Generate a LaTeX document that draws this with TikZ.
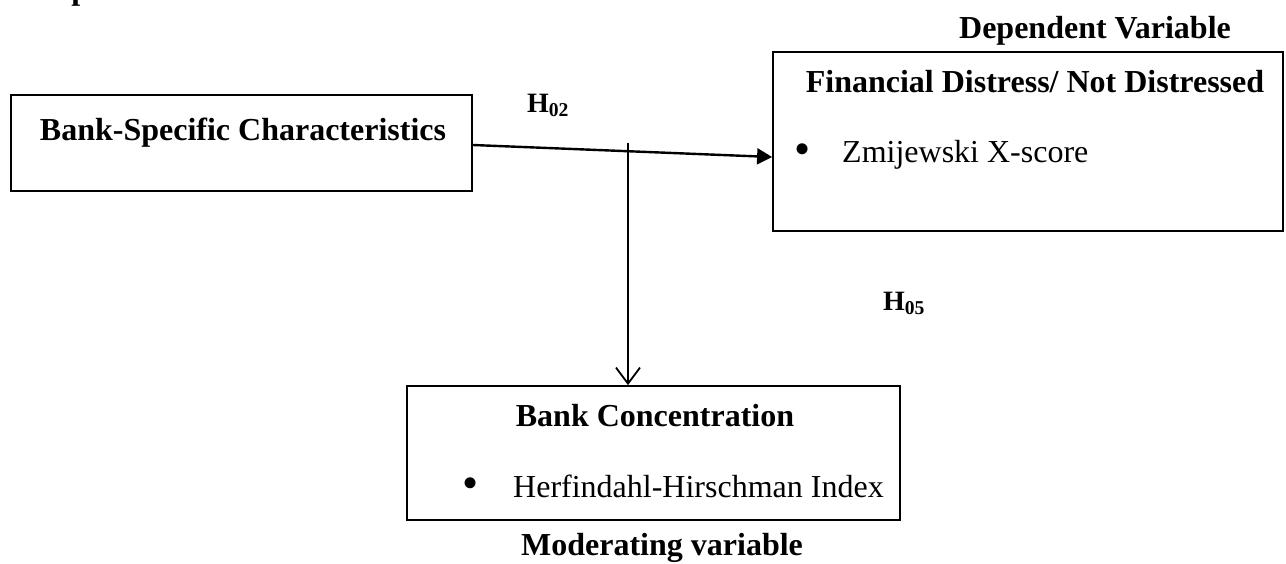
\documentclass[tikz,border=0pt]{standalone}
\usepackage{fontspec}
\setmainfont{Liberation Serif}
\usetikzlibrary{arrows.meta}
\tikzset{
  box/.style={draw, line width=1.8pt, inner sep=0pt},
  lbl/.style={font=\fontsize{32}{36}\selectfont\bfseries, inner sep=0pt, anchor=base},
  itm/.style={font=\fontsize{32}{36}\selectfont, inner sep=0pt, anchor=base west},
  bul/.style={font=\fontsize{46}{46}\selectfont, inner sep=0pt, anchor=center},
  hyp/.style={font=\fontsize{28}{32}\selectfont\bfseries, inner sep=0pt, anchor=base},
}
\begin{document}
\begin{tikzpicture}[x=1pt,y=-1pt]
\useasboundingbox (0,0) rectangle (1286,563);
\begin{scope}
\clip (0,0) rectangle (1286,563);
\node[lbl, anchor=base west] (top) at (9,-1) {Independent variables};
\end{scope}
% boxes
\node[box, minimum width=461pt, minimum height=96pt] (bsc) at (241.5,143) {};
\node[box, minimum width=510pt, minimum height=179pt] (fd) at (1028,141.5) {};
\node[box, minimum width=493pt, minimum height=134pt] (bc) at (653.5,453) {};
% texts
\node[lbl] (bsct) at (243,140) {Bank-Specific Characteristics};
\node[lbl] (dvt) at (1095,38) {Dependent Variable};
\node[lbl] (fdt) at (1035,92) {Financial Distress/ Not Distressed};
\node[bul] (fdb) at (803,154) {\textbullet};
\node[itm] (fdi) at (842,162) {Zmijewski X-score};
\node[lbl] (bct) at (655,426) {Bank Concentration};
\node[bul] (bcb) at (471,488) {\textbullet};
\node[itm] (bci) at (513,497) {Herfindahl-Hirschman Index};
\node[lbl] (mvt) at (662,555) {Moderating variable};
\node[hyp] (h02) at (548,112) {H\textsubscript{02}};
\node[hyp] (h05) at (904,310) {H\textsubscript{05}};
% connectors
\draw[line width=2.4pt, -{Triangle[length=15pt,width=16pt]}] ([yshift=-2pt]bsc.east) -- ([yshift=-15.5pt]fd.west);
\coordinate (vt) at (628,143);
\draw[line width=2pt, -{Straight Barb[length=16pt,width=24pt,line width=1.8pt]}] (vt) -- (vt |- bc.north);
\end{tikzpicture}
\end{document}
